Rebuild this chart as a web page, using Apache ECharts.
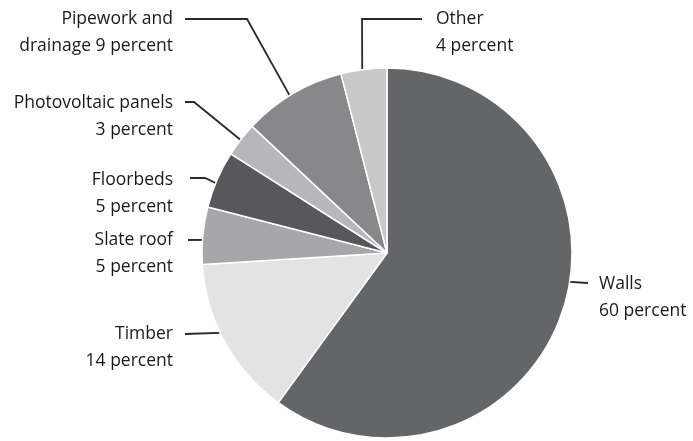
<!DOCTYPE html>
<html>
<head>
<meta charset="utf-8">
<script src="https://cdn.jsdelivr.net/npm/echarts@6/dist/echarts.min.js"></script>
<style>
  html, body { margin: 0; padding: 0; background: #ffffff; }
  #chart { width: 693px; height: 441px; }
</style>
</head>
<body>
<div id="chart"></div>
<script>
// Share of embodied material by building element (percent)
const categories = ['Walls', 'Timber', 'Slate roof', 'Floorbeds', 'Photovoltaic panels', 'Pipework and\ndrainage', 'Other'];
const percents = [60, 14, 5, 5, 3, 9, 4];
const sliceColors = ['#646568', '#e3e3e3', '#a7a7a9', '#58585b', '#b7b7b9', '#88888b', '#c8c8c9'];

// Pie geometry (px)
const CX = 387, CY = 253, R = 185, LEADER_R = 173;

// Label placement: where in the slice the leader starts (fraction of the slice sweep),
// optional elbow, the leader's outer end, and the anchor of the text block.
const labelPlacement = [
  { frac: 0.46, elbow: null,       end: [588, 283], tx: 599, ty: 284, align: 'left' },
  { frac: 0.53, elbow: null,       end: [185, 334], tx: 173, ty: 334, align: 'right' },
  { frac: 0.44, elbow: null,       end: [188, 240], tx: 173, ty: 240, align: 'right' },
  { frac: 0.42, elbow: [205, 178], end: [190, 178], tx: 173, ty: 180, align: 'right' },
  { frac: 0.48, elbow: [194, 102], end: [185, 102], tx: 173, ty: 103, align: 'right' },
  { frac: 0.46, elbow: [247, 19],  end: [185, 19],  tx: 173, ty: 19,  align: 'right' },
  { frac: 0.43, elbow: [362, 19],  end: [422, 19],  tx: 436, ty: 19,  align: 'left' }
];

const LINE_H = 27;
const total = percents.reduce((a, b) => a + b, 0);
// clockwise angle from 12 o'clock where each slice starts
const sliceStart = [];
percents.reduce((acc, v) => { sliceStart.push(acc); return acc + v / total * 360; }, 0);

function leaderStart(i) {
  const deg = sliceStart[i] + labelPlacement[i].frac * percents[i] / total * 360;
  const rad = deg * Math.PI / 180;
  return [CX + LEADER_R * Math.sin(rad), CY - LEADER_R * Math.cos(rad)];
}

const chart = echarts.init(document.getElementById('chart'), null, { renderer: 'canvas' });
chart.setOption({
  backgroundColor: '#ffffff',
  animation: false,
  series: [{
    type: 'pie',
    center: [CX, CY],
    radius: R,
    startAngle: 90,
    clockwise: true,
    avoidLabelOverlap: false,
    data: categories.map((name, i) => ({
      name: name,
      value: percents[i],
      itemStyle: { color: sliceColors[i] }
    })),
    itemStyle: { borderColor: '#ffffff', borderWidth: 1.5 },
    emphasis: { disabled: true },
    label: {
      show: true,
      position: 'outside',
      color: '#1a1a1a',
      fontFamily: '"Open Sans", sans-serif',
      fontSize: 17.5,
      lineHeight: LINE_H,
      formatter: p => p.name + (p.name.indexOf('\n') >= 0 ? ' ' : '\n') + p.value + ' percent'
    },
    labelLine: {
      show: true,
      smooth: false,
      lineStyle: { color: '#2a2a2c', width: 1.8 }
    },
    labelLayout: function (params) {
      const i = params.dataIndex;
      const lp = labelPlacement[i];
      const pts = [leaderStart(i)];
      pts.push(lp.elbow ? lp.elbow : lp.end);
      pts.push(lp.end);
      return {
        x: lp.tx,
        y: lp.ty - LINE_H / 2,
        align: lp.align,
        verticalAlign: 'top',
        labelLinePoints: pts
      };
    }
  }]
});
</script>
</body>
</html>
